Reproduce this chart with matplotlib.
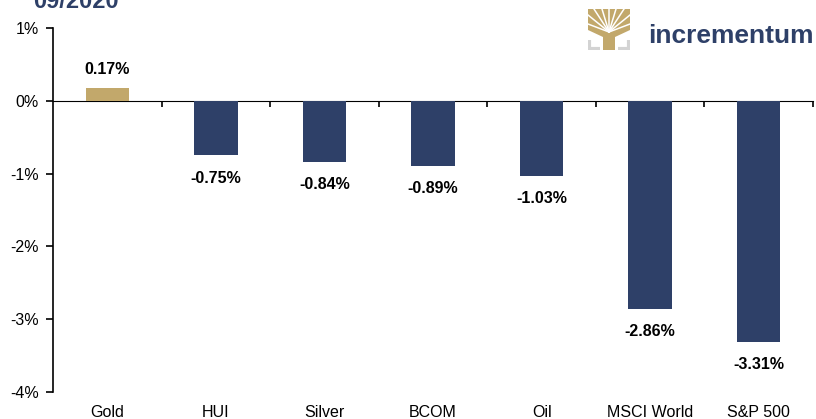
import matplotlib
matplotlib.use('Agg')
import matplotlib.pyplot as plt
import numpy as np
from matplotlib.patches import Polygon

plt.rcParams['font.family'] = ['Liberation Sans', 'DejaVu Sans']

# data
assets = ['Gold', 'HUI', 'Silver', 'BCOM', 'Oil', 'MSCI World', 'S&P 500']
returns = [0.17, -0.75, -0.84, -0.89, -1.03, -2.86, -3.31]
yticks = [-4, -3, -2, -1, 0, 1]

navy = '#2e4068'
gold = '#c2a86b'
colors = [gold if v > 0 else navy for v in returns]

fig = plt.figure(figsize=(8.16, 4.19), dpi=100)
ax = fig.add_axes([53/816, 27/419, 760/816, 364/419])

x = np.arange(len(assets))
ax.bar(x, returns, width=0.4, color=colors, zorder=2)

for xi, v in zip(x, returns):
    off = 13.5 if v > 0 else -16.5
    ax.annotate('%.2f%%' % v, (xi, v), xytext=(0, off), textcoords='offset points',
                ha='center', va='center', fontsize=11.5, fontweight='bold')

ax.set_xlim(-0.5, len(assets) - 0.5)
ax.set_ylim(-4, 1)
ax.set_yticks(yticks)
ax.set_yticklabels(['%d%%' % t for t in yticks], fontsize=11.5)
ax.tick_params(axis='y', length=5, width=1.2, direction='out', pad=5)

ax.set_xticks(x)
ax.set_xticklabels(assets, fontsize=11.5)
ax.tick_params(axis='x', length=0, pad=9)

for s in ['top', 'right', 'bottom']:
    ax.spines[s].set_visible(False)
ax.spines['left'].set_linewidth(1.2)

# zero line with category separators
zero = ax.secondary_xaxis(4/5)
zero.set_xticks(x + 0.5)
zero.set_xticklabels([])
zero.tick_params(length=4, width=1.2, direction='out')
zero.spines['bottom'].set_linewidth(1.2)
zero.xaxis.set_ticks_position('bottom')

# title (partially cut off in original)
fig.text(33/816, 1 - 8/419, '09/2020', ha='left', va='baseline',
         fontsize=17, fontweight='bold', color=navy)

# logo
fig.text(648/816, 1 - 43/419, 'incrementum', ha='left', va='baseline',
         fontsize=19, color=navy, fontweight='bold')

lg = fig.add_axes([588/816, 1 - 50/419, 42/816, 41/419])
lg.set_xlim(0, 42)
lg.set_ylim(0, 41)
lg.axis('off')
lg.add_patch(Polygon([(0, 41), (42, 41), (42, 20), (27, 13), (27, 0), (15, 0),
                      (15, 13), (0, 20)], closed=True, color=gold, lw=0))
for ex, ey in [(0, 26), (0, 35), (6, 41), (14, 41), (21, 41),
               (28, 41), (36, 41), (42, 35), (42, 26)]:
    lg.plot([21, ex], [18, ey], color='white', lw=1.1)
lg.add_patch(Polygon([(15, 0), (27, 0), (26, 20), (16, 20)], closed=True, color=gold, lw=0))
lg.plot([1, 1, 12], [10, 1, 1], color='#d3d3d3', lw=3, solid_capstyle='butt')
lg.plot([41, 41, 30], [10, 1, 1], color='#d3d3d3', lw=3, solid_capstyle='butt')

fig.savefig('out.png', dpi=100)
